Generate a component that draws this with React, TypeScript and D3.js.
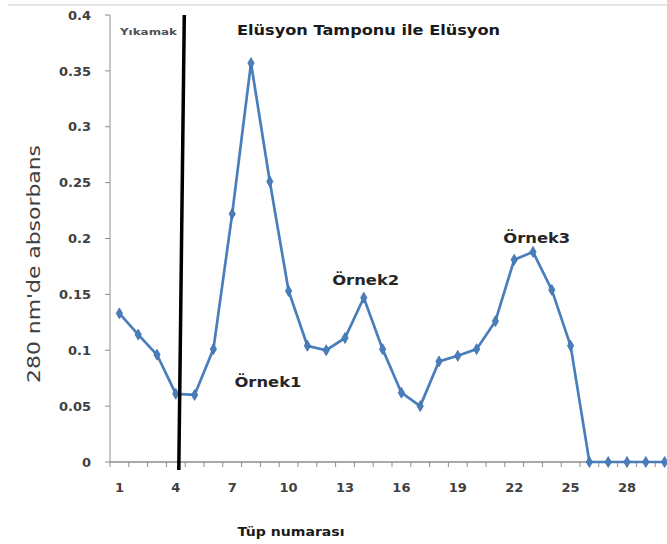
import React from "react";
import * as d3 from "d3";

const tubes: number[] = d3.range(1, 31);
const absorbance: number[] = [
  0.133, 0.114, 0.096, 0.061, 0.06, 0.101, 0.222, 0.357, 0.251, 0.153,
  0.104, 0.1, 0.111, 0.147, 0.101, 0.062, 0.05, 0.09, 0.095, 0.101,
  0.126, 0.181, 0.188, 0.154, 0.104, 0, 0, 0, 0, 0,
];
const yTicks: number[] = [0, 0.05, 0.1, 0.15, 0.2, 0.25, 0.3, 0.35, 0.4];
const xTickLabels: number[] = [1, 4, 7, 10, 13, 16, 19, 22, 25, 28];
const annotationLabels: string[] = ["Örnek1", "Örnek2", "Örnek3"];
const annotationTubes: number[] = [8.9, 14.1, 23.2];
const annotationValues: number[] = [0.067, 0.158, 0.196];

const W = 667;
const H = 544;
const BOLD = "'DejaVu Sans', Lato, sans-serif";
const REG = "'DejaVu Sans', 'Open Sans', sans-serif";

export default function App() {
  const left = 110;
  const bandW = 18.8;
  const x = d3
    .scaleBand<number>()
    .domain(tubes)
    .range([left, left + bandW * tubes.length]);
  const cx = (t: number) => (x(t) as number) + x.bandwidth() / 2;
  const xPos = d3
    .scaleLinear()
    .domain([1, tubes.length])
    .range([cx(1), cx(tubes.length)]);
  const y = d3.scaleLinear().domain([0, 0.4]).range([462, 15]);

  const line = d3
    .line<number>()
    .x((_, i) => cx(tubes[i]))
    .y((d) => y(d));

  const diamond = d3.symbol().type(d3.symbolDiamond).size(34)() as string;
  const boundaries = d3.range(0, tubes.length + 1).map((i) => left + i * bandW);

  return (
    <svg
      width={W}
      height={H}
      style={{ position: "absolute", left: 0, top: 0, background: "#fff" }}
    >
      <rect width={W} height={H} fill="#fff" />
      <line x1={8} x2={W} y1={5} y2={5} stroke="#e6e6e6" strokeWidth={2} />
      {/* y axis */}
      <line x1={left} x2={left} y1={y(0.4)} y2={y(0)} stroke="#8c8c8c" strokeWidth={1} />
      {yTicks.map((t) => (
        <g key={t}>
          <line x1={left - 5} x2={left} y1={y(t)} y2={y(t)} stroke="#8c8c8c" />
          <text
            x={91}
            y={y(t)}
            dy="0.36em"
            textAnchor="end"
            fontFamily={BOLD}
            fontSize={13}
            fontWeight="bold"
            fill="#404040"
          >
            {t}
          </text>
        </g>
      ))}
      {/* x axis */}
      <line x1={left} x2={W} y1={y(0)} y2={y(0)} stroke="#8c8c8c" strokeWidth={1.5} />
      {boundaries.map((b, i) => (
        <line key={i} x1={b} x2={b} y1={y(0)} y2={y(0) + 5} stroke="#8c8c8c" />
      ))}
      {xTickLabels.map((t) => (
        <text
          key={t}
          x={cx(t)}
          y={y(0) + 30}
          textAnchor="middle"
          fontFamily={BOLD}
          fontSize={13}
          fontWeight="bold"
          fill="#404040"
        >
          {t}
        </text>
      ))}
      {/* data */}
      <path d={line(absorbance) as string} fill="none" stroke="#4a7ebb" strokeWidth={2.7} />
      {absorbance.map((v, i) => (
        <path
          key={i}
          d={diamond}
          transform={`translate(${cx(tubes[i])},${y(v)})`}
          fill="#4a7ebb"
          stroke="#3c6ea8"
          strokeWidth={0.8}
        />
      ))}
      {/* separator line */}
      <line
        x1={cx(4) + 8.5}
        y1={y(0.4)}
        x2={cx(4) + 3}
        y2={y(0) + 8}
        stroke="#000"
        strokeWidth={3.5}
      />
      <text
        x={120}
        y={35}
        fontFamily={BOLD}
        fontSize={9}
        fontWeight="bold"
        fill="#505050"
        textLength={57}
        lengthAdjust="spacingAndGlyphs"
      >
        Yıkamak
      </text>
      <text
        x={237}
        y={35}
        fontFamily={BOLD}
        fontSize={14}
        fontWeight="bold"
        fill="#1a1a1a"
        textLength={263}
        lengthAdjust="spacingAndGlyphs"
      >
        Elüsyon Tamponu ile Elüsyon
      </text>
      {annotationLabels.map((label, i) => (
        <text
          key={label}
          x={xPos(annotationTubes[i])}
          y={y(annotationValues[i])}
          textAnchor="middle"
          fontFamily={BOLD}
          fontSize={14}
          fontWeight="bold"
          fill="#262626"
          textLength={67}
          lengthAdjust="spacingAndGlyphs"
        >
          {label}
        </text>
      ))}
      <text
        transform={`translate(40, 264) rotate(-90)`}
        textAnchor="middle"
        fontFamily={REG}
        fontSize={18}
        fill="#404040"
        textLength={238}
        lengthAdjust="spacingAndGlyphs"
      >
        280 nm'de absorbans
      </text>
      <text
        x={291}
        y={536}
        textAnchor="middle"
        fontFamily={BOLD}
        fontSize={13}
        fontWeight="bold"
        fill="#1a1a1a"
        textLength={107}
        lengthAdjust="spacingAndGlyphs"
      >
        Tüp numarası
      </text>
    </svg>
  );
}
